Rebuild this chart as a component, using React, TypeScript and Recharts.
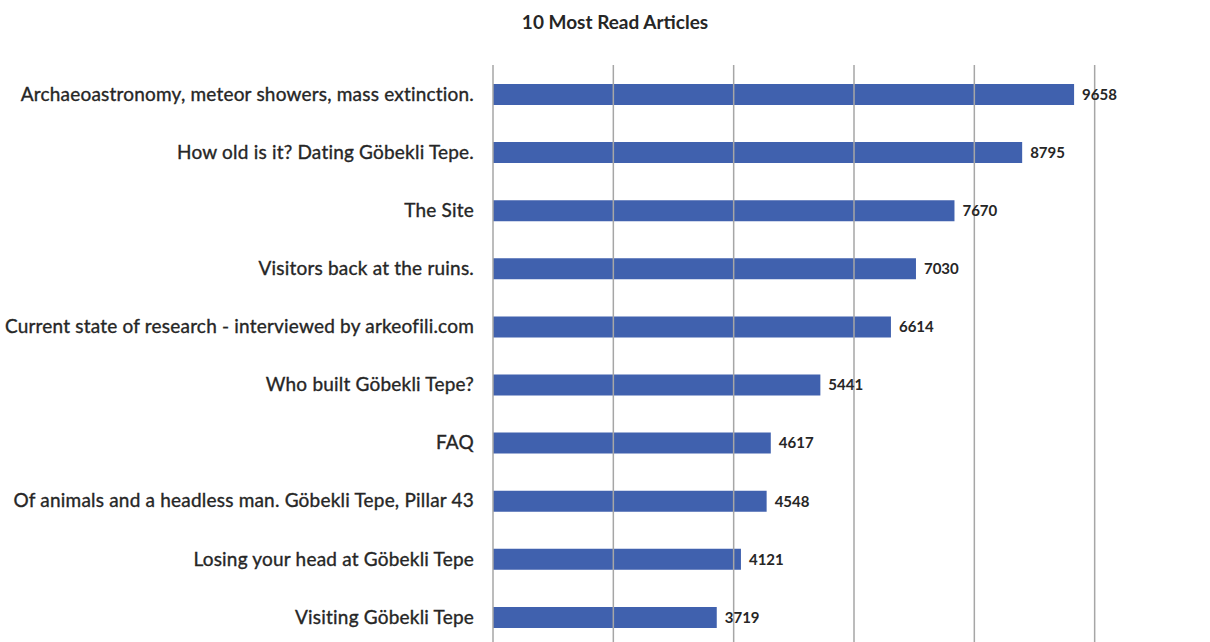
import React from 'react';
import { BarChart, Bar, XAxis, YAxis, ReferenceLine, LabelList } from 'recharts';

const articles = [
  'Archaeoastronomy, meteor showers, mass extinction.',
  'How old is it? Dating Göbekli Tepe.',
  'The Site',
  'Visitors back at the ruins.',
  'Current state of research - interviewed by arkeofili.com',
  'Who built Göbekli Tepe?',
  'FAQ',
  'Of animals and a headless man. Göbekli Tepe, Pillar 43',
  'Losing your head at Göbekli Tepe',
  'Visiting Göbekli Tepe',
];
const reads = [9658, 8795, 7670, 7030, 6614, 5441, 4617, 4548, 4121, 3719];
const gridTicks = [0, 2000, 4000, 6000, 8000, 10000, 12000];

const data = articles.map((name, i) => ({ name, reads: reads[i] }));

const FONT = 'Lato, "Open Sans", sans-serif';

export default function App() {
  return (
    <div
      style={{
        position: 'absolute',
        left: 0,
        top: 0,
        width: 1210,
        height: 642,
        overflow: 'hidden',
        background: '#fff',
        fontFamily: FONT,
      }}
    >
      <div
        style={{
          position: 'absolute',
          top: 10,
          left: 0,
          width: 1230,
          textAlign: 'center',
          fontSize: 19,
          fontWeight: 700,
          color: '#262626',
        }}
      >
        10 Most Read Articles
      </div>
      <BarChart
        width={1230}
        height={660}
        data={data}
        layout="vertical"
        margin={{ top: 65, right: 15, bottom: 14, left: 0 }}
        barCategoryGap={0}
      >
        <XAxis type="number" domain={[0, 12000]} ticks={gridTicks} hide />
        <YAxis
          type="category"
          dataKey="name"
          width={493}
          axisLine={false}
          tickLine={false}
          tickMargin={13}
          interval={0}
          tick={{
            fontSize: 19,
            fill: '#262626',
            stroke: '#262626',
            strokeWidth: 0.35,
            letterSpacing: 0.2,
            fontFamily: FONT,
          }}
        />
        {gridTicks.map((t) => (
          <ReferenceLine key={t} x={t} stroke="#a6a6a6" strokeWidth={1.5} />
        ))}
        <Bar dataKey="reads" fill="#4061ae" barSize={21} isAnimationActive={false}>
          <LabelList
            dataKey="reads"
            position="right"
            offset={8}
            style={{ fontSize: 15, fontWeight: 700, fill: '#262626', fontFamily: FONT }}
          />
        </Bar>
      </BarChart>
    </div>
  );
}
